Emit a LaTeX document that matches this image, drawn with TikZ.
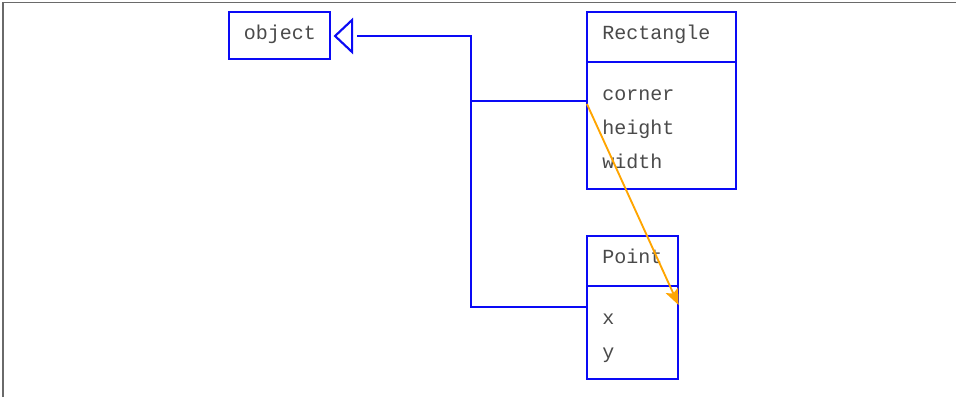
\documentclass[tikz,border=0pt]{standalone}
\usepackage{fontspec}
\setmonofont{Liberation Mono}
\usetikzlibrary{arrows.meta,calc}
\definecolor{umlblue}{HTML}{0A0AF5}
\definecolor{umlorange}{HTML}{FFA500}
\definecolor{umltext}{HTML}{4A4A4A}
\definecolor{framegray}{HTML}{6A6A6A}
\begin{document}
\begin{tikzpicture}[x=0.75pt,y=-0.75pt,
  box/.style={draw=umlblue,line width=1.6pt,rectangle,inner sep=0pt},
  lbl/.style={inner sep=0pt,anchor=base west,text=umltext,font=\ttfamily\fontsize{15}{17}\selectfont},
  clbl/.style={inner sep=0pt,anchor=base,text=umltext,font=\ttfamily\fontsize{15}{17}\selectfont},
  wire/.style={draw=umlblue,line width=1.6pt},
  assoc/.style={draw=umlorange,line width=1.4pt,-{Stealth[length=12pt,width=10pt,inset=2.5pt]}}]
\useasboundingbox (0,0) rectangle (956,397);
\fill[white] (0,0) rectangle (956,397);
% frame
\draw[framegray,line width=0.8pt] (3,397) -- (3,2.5) -- (956,2.5);
% object
\node[box,minimum width=101*0.75pt,minimum height=47*0.75pt] (obj) at (279.5,35.5) {};
\node[clbl] (objt) at (280,39.5) {object};
% Rectangle
\node[box,minimum width=149*0.75pt,minimum height=177*0.75pt] (rect) at (661.5,100.5) {};
\coordinate (rdl) at (587,62);
\coordinate (rdr) at (736,62);
\draw[wire] (rdl) -- (rdr);
\node[lbl] (rname) at (602,39.5) {Rectangle};
\node[lbl] (rc) at (602,100.5) {corner};
\node[lbl] (rh) at (602,134.2) {height};
\node[lbl] (rw) at (602,168) {width};
% Point
\node[box,minimum width=91*0.75pt,minimum height=143*0.75pt] (pt) at (632.5,307.5) {};
\coordinate (pdl) at (587,286);
\coordinate (pdr) at (678,286);
\draw[wire] (pdl) -- (pdr);
\node[lbl] (pname) at (602,263.3) {Point};
\node[lbl] (px) at (602,324) {x};
\node[lbl] (py) at (602,358.5) {y};
% inheritance
\coordinate (j) at (471,36);
\coordinate (tip) at ($(obj.east)+(4,0.5)$);
\coordinate (tb) at ($(tip)+(17,0)$);
\draw[wire,line join=miter] (tip) -- ($(tb)+(0,-16)$) -- ($(tb)+(0,16)$) -- cycle;
\draw[wire] ($(rect.west)+(0,0.5)$) -| (j) -- ($(tb)+(5,0)$);
\draw[wire] ($(pt.west)+(0,-0.5)$) -| (j);
% association
\draw[assoc] ($(rect.west)+(1,3.5)$) -- ($(pt.east)+(-0.5,-2.5)$);
\end{tikzpicture}
\end{document}
